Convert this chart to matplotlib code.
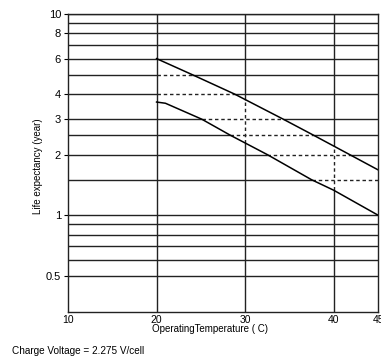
import numpy as np
import matplotlib
matplotlib.use("Agg")
import matplotlib.pyplot as plt

plt.rcParams['font.family'] = ['Liberation Sans Narrow', 'Liberation Sans', 'DejaVu Sans']

# upper and lower life curves (temperature C, years)
upper_temp = [20, 24, 28.8, 34.3, 37.7, 41.8, 45]
upper_life = [6.0, 5.0, 4.0, 3.0, 2.5, 2.0, 1.68]
lower_temp = [20, 21, 25.1, 28.3, 32.5, 37.5, 40, 45]
lower_life = [3.65, 3.6, 3.0, 2.5, 2.0, 1.5, 1.33, 1.0]

grid_levels = [10, 9, 8, 7, 6, 5, 4, 3, 2.5, 2, 1.5, 1, 0.9, 0.8, 0.7, 0.6, 0.5]
grid_temps = [20, 30, 40]
guide_levels = [5, 4, 3, 2.5, 2, 1.5]   # dashed between the curves
guide_temps = [30, 40]

ytick_vals = [10, 8, 6, 4, 3, 2, 1, 0.5]
ytick_labels = ['10', '8', '6', '4', '3', '2', '1', '0.5']
xtick_vals = [10, 20, 30, 40, 45]
xtick_labels = ['10', '20', '30', '40', '45']

xmin, xmax = 10, 45
ymin, ymax = 0.33, 10


def temp_at(life, temps, lifes):
    # curves fall with temperature, so flip for np.interp
    return np.interp(np.log10(life), np.log10(lifes[::-1]), temps[::-1])


def life_at(temp, temps, lifes):
    return 10 ** np.interp(temp, temps, np.log10(lifes))


fig = plt.figure(figsize=(3.81, 3.58), dpi=100)
ax = fig.add_axes([68 / 381, 1 - 312 / 358, 310 / 381, 298 / 358])
ax.set_yscale('log')
ax.set_xlim(xmin, xmax)
ax.set_ylim(ymin, ymax)

gcol = '#222222'
glw = 1.0
dash = (0, (2.5, 2.0))

for lv in grid_levels:
    if lv in guide_levels:
        x_lo = 20 if lv > max(lower_life) else temp_at(lv, lower_temp, lower_life)
        x_hi = 45 if lv < min(upper_life) else temp_at(lv, upper_temp, upper_life)
        ax.hlines(lv, xmin, x_lo, color=gcol, lw=glw)
        ax.hlines(lv, x_lo, x_hi, color=gcol, lw=glw, linestyles=dash)
        ax.hlines(lv, x_hi, xmax, color=gcol, lw=glw)
    else:
        ax.hlines(lv, xmin, xmax, color=gcol, lw=glw)

for t in grid_temps:
    if t in guide_temps:
        y_lo = life_at(t, lower_temp, lower_life)
        y_hi = life_at(t, upper_temp, upper_life)
        ax.vlines(t, ymin, y_lo, color=gcol, lw=glw)
        ax.vlines(t, y_lo, y_hi, color=gcol, lw=glw, linestyles=dash)
        ax.vlines(t, y_hi, ymax, color=gcol, lw=glw)
    else:
        ax.vlines(t, ymin, ymax, color=gcol, lw=glw)

ax.plot(upper_temp, upper_life, color='black', lw=1.1)
ax.plot(lower_temp, lower_life, color='black', lw=1.1)

for s in ax.spines.values():
    s.set_color(gcol)
    s.set_linewidth(1.0)

ax.yaxis.set_minor_locator(matplotlib.ticker.NullLocator())
ax.set_yticks(ytick_vals)
ax.set_yticklabels(ytick_labels, fontsize=8)
ax.set_xticks(xtick_vals)
ax.set_xticklabels(xtick_labels, fontsize=7.5)
ax.tick_params(axis='y', length=3, width=0.8, pad=2)
ax.tick_params(axis='x', length=0, pad=2)

ax.set_xlabel('OperatingTemperature ( C)', fontsize=7)
ax.xaxis.set_label_coords((210 - 68) / 310, (312 - 329) / 298)
ax.xaxis.label.set_va('center')
ax.set_ylabel('Life expectancy (year)', fontsize=7)
ax.yaxis.set_label_coords((38 - 68) / 310, 0.49)
ax.yaxis.label.set_va('center')

fig.text(12 / 381, 1 - 351 / 358, 'Charge Voltage = 2.275 V/cell', fontsize=7.2, va='center')

fig.savefig('out.png', dpi=100)
